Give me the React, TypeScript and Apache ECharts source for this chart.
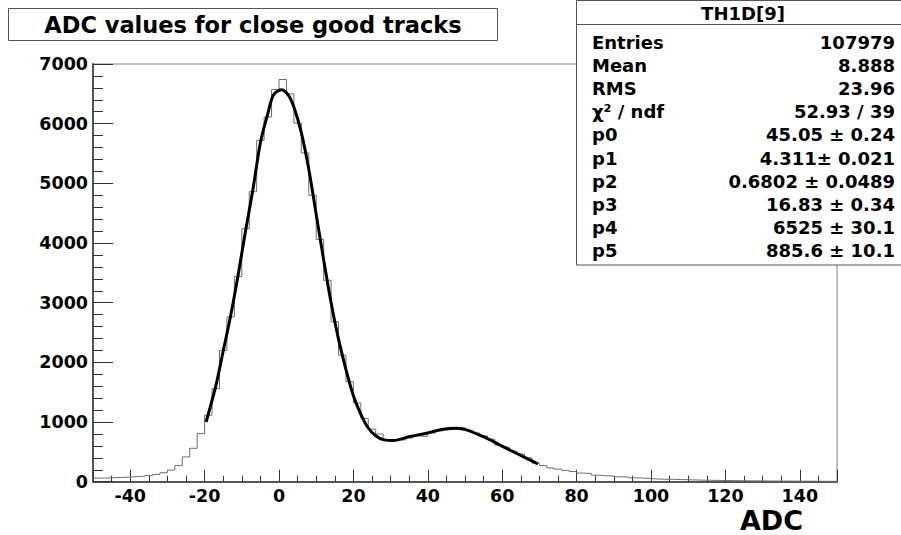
import React, { useEffect, useRef } from 'react';
import * as echarts from 'echarts';

// ---- data ----
const BIN_START = -50;
const BIN_WIDTH = 2;
// counts per 2-ADC bin, from -50 to 150
const binCounts = [
  60, 62, 68, 72, 78, 85, 92, 105, 122, 150,
  195, 270, 415, 560, 805, 1115, 1560, 2200, 2760, 3440,
  4240, 4860, 5720, 6110, 6570, 6740, 6500, 6010, 5510, 4800,
  4060, 3375, 2680, 2120, 1675, 1320, 1060, 880, 800, 690,
  685, 700, 735, 765, 760, 815, 850, 870, 885, 905,
  860, 815, 770, 715, 615, 580, 510, 465, 400, 310,
  270, 230, 210, 190, 170, 145, 135, 110, 100, 95,
  82, 78, 66, 60, 52, 45, 42, 40, 36, 33,
  29, 26, 24, 22, 20, 18, 17, 15, 14, 13,
  12, 11, 10, 10, 9, 8, 8, 7, 6, 6,
];

// fit curve: [ADC, counts]
const fitX = [
  -19.6, -17, -15, -13, -11, -9, -7, -5, -3, -1.5,
  0.6, 2.5, 4, 6, 8, 10, 12, 14, 16, 18,
  20, 22, 24, 26, 28, 30.7, 35.2, 39.6, 44.1, 47.7,
  50.4, 55.8, 59.3, 63.8, 69.6,
];
const fitY = [
  1000, 1600, 2190, 2780, 3460, 4200, 4900, 5680, 6170, 6480,
  6570, 6480, 6280, 5850, 5240, 4480, 3720, 3000, 2390, 1880,
  1440, 1130, 900, 770, 705, 689, 756, 813, 880, 897,
  869, 729, 617, 477, 300,
];

const chartTitle = 'ADC values for close good tracks';
const xAxisTitle = 'ADC';
const statsHeader = 'TH1D[9]';
const statsLabels = ['Entries', 'Mean', 'RMS', 'χ² / ndf', 'p0', 'p1', 'p2', 'p3', 'p4', 'p5'];
const statsValues = [
  '107979', '8.888', '23.96', '52.93 / 39', '45.05 ± 0.24', '4.311± 0.021',
  '0.6802 ± 0.0489', '16.83 ± 0.34', '6525 ± 30.1', '885.6 ± 10.1',
];

const FONT = '"DejaVu Sans", "Liberation Sans", sans-serif';

export default function App() {
  const ref = useRef<HTMLDivElement>(null);

  useEffect(() => {
    if (!ref.current) return;
    const chart = echarts.init(ref.current, undefined, { renderer: 'svg' });

    const histData: number[][] = binCounts.map((c, i) => [BIN_START + i * BIN_WIDTH, c]);
    histData.push([BIN_START + binCounts.length * BIN_WIDTH, binCounts[binCounts.length - 1]]);
    const fitData = fitX.map((x, i) => [x, fitY[i]]);

    const txt = (x: number, y: number, text: string, size: number, align: string) => ({
      type: 'text',
      x,
      y,
      z: 100,
      style: {
        text,
        fill: '#000',
        fontFamily: FONT,
        fontWeight: 'bold',
        fontSize: size,
        align,
        textAlign: align,
        verticalAlign: 'middle',
        textVerticalAlign: 'middle',
      },
    });

    const rowY0 = 42;
    const rowStep = 23.2;
    const statsTexts: any[] = [];
    statsLabels.forEach((l, i) => {
      statsTexts.push(txt(592, rowY0 + i * rowStep, l, 18, 'left'));
      statsTexts.push(txt(895, rowY0 + i * rowStep, statsValues[i], 18, 'right'));
    });

    const axisLabelStyle = {
      color: '#000',
      fontFamily: FONT,
      fontWeight: 'bold',
      fontSize: 17.5,
    };

    chart.setOption({
      animation: false,
      backgroundColor: '#fff',
      grid: {
        left: 93,
        top: 64,
        width: 744,
        height: 417.7,
        containLabel: false,
        outerBoundsMode: 'none',
        show: true,
        borderColor: '#808080',
        borderWidth: 1,
        backgroundColor: 'transparent',
      },
      xAxis: {
        type: 'value',
        min: -50,
        max: 150,
        splitNumber: 10,
        splitLine: { show: false },
        axisLine: { show: true, onZero: false, lineStyle: { color: '#555', width: 2 } },
        axisTick: { show: true, inside: true, length: 12, lineStyle: { color: '#333', width: 1 } },
        minorTick: { show: true, splitNumber: 4, length: 6, lineStyle: { color: '#333', width: 1 } },
        axisLabel: {
          ...axisLabelStyle,
          margin: 5,
          showMinLabel: false,
          showMaxLabel: false,
          formatter: (v: number) => (v % 20 === 0 ? String(v) : ''),
        },
      },
      yAxis: {
        type: 'value',
        min: 0,
        max: 7000,
        interval: 1000,
        splitLine: { show: false },
        axisLine: { show: true, onZero: false, lineStyle: { color: '#555', width: 2 } },
        axisTick: { show: true, inside: true, length: 20, lineStyle: { color: '#333', width: 1 } },
        minorTick: { show: true, splitNumber: 5, length: 10, lineStyle: { color: '#333', width: 1 } },
        axisLabel: { ...axisLabelStyle, margin: 5, formatter: (v: number) => String(v) },
      },
      series: [
        {
          type: 'line',
          name: 'hist',
          data: histData,
          step: 'end',
          showSymbol: false,
          symbol: 'none',
          lineStyle: { color: '#6e6e6e', width: 1 },
          z: 2,
        },
        {
          type: 'line',
          name: 'fit',
          data: fitData,
          smooth: 0.3,
          showSymbol: false,
          symbol: 'none',
          lineStyle: { color: '#000', width: 3 },
          z: 3,
        },
      ],
      graphic: [
        {
          type: 'rect',
          z: 90,
          shape: { x: 8.5, y: 8.5, width: 489, height: 32 },
          style: { fill: '#fff', stroke: '#555', lineWidth: 1 },
        },
        txt(253, 25, chartTitle, 22.5, 'center'),
        {
          type: 'rect',
          z: 90,
          shape: { x: 576.5, y: 0.5, width: 340, height: 264.5 },
          style: { fill: '#fff', stroke: '#555', lineWidth: 1 },
        },
        {
          type: 'line',
          z: 91,
          shape: { x1: 576.5, y1: 24.5, x2: 901, y2: 24.5 },
          style: { stroke: '#555', lineWidth: 1 },
        },
        txt(743, 13.5, statsHeader, 18, 'center'),
        ...statsTexts,
        txt(803, 520.5, xAxisTitle, 27, 'right'),
      ],
    });

    return () => chart.dispose();
  }, []);

  return (
    <div
      ref={ref}
      style={{ position: 'fixed', left: 0, top: 0, width: 901, height: 535, background: '#fff' }}
    />
  );
}
